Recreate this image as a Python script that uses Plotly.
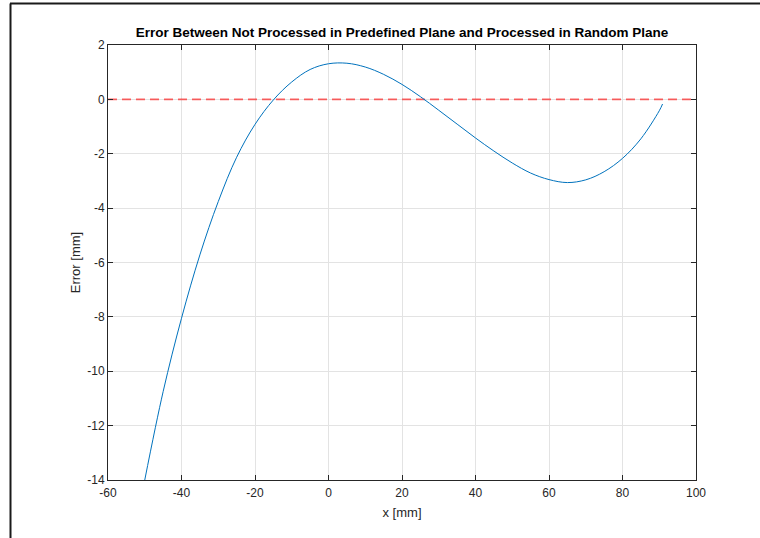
import plotly.graph_objects as go

# Measured error profile along x (sampled every 5 mm, plus the end point)
x_mm = [-50, -45, -40, -35, -30, -25, -20, -15, -10, -5,
        0, 5, 10, 15, 20, 25, 30, 35, 40, 45,
        50, 55, 60, 65, 70, 75, 80, 85, 90, 90.9]
error_mm = [-14.0, -10.75, -8.05, -5.72, -3.76, -2.13, -0.92, -0.02, 0.64, 1.1,
            1.31, 1.33, 1.19, 0.92, 0.55, 0.1, -0.4, -0.91, -1.42, -1.9,
            -2.34, -2.71, -2.95, -3.06, -2.96, -2.66, -2.17, -1.45, -0.42, -0.17]

# Zero reference line across the full x range
ref_x = [-60, 100]
ref_y = [0, 0]

x_ticks = [-60, -40, -20, 0, 20, 40, 60, 80, 100]
x_tick_text = ["-60", "-40", "-20", "0", "20", "40", "60", "80", "100"]
y_ticks = [2, 0, -2, -4, -6, -8, -10, -12, -14]
y_tick_text = ["2", "0", "-2", "-4", "-6", "-8", "-10", "-12", "-14"]

title_text = "Error Between Not Processed in Predefined Plane and Processed in Random Plane"
x_label = "x [mm]"
y_label = "Error [mm]"

font_family = "Liberation Sans, Arial, Helvetica, sans-serif"
axis_color = "#262626"

fig = go.Figure()
fig.add_trace(go.Scatter(
    x=ref_x, y=ref_y, mode="lines",
    line=dict(color="rgba(255,0,0,0.6)", width=1.6, dash="9px,5px"),
    hoverinfo="skip", showlegend=False,
))
fig.add_trace(go.Scatter(
    x=x_mm, y=error_mm, mode="lines",
    line=dict(color="#0072BD", width=1, shape="spline", smoothing=1.0),
    showlegend=False,
))

axis_common = dict(
    showline=True, linecolor=axis_color, linewidth=1, mirror="ticks",
    ticks="inside", ticklen=5, tickcolor=axis_color, tickwidth=1,
    showgrid=True, gridcolor="#e3e3e3", gridwidth=1,
    zeroline=False,
    tickfont=dict(family=font_family, size=12, color=axis_color),
)

fig.update_layout(
    width=760, height=538,
    margin=dict(l=108, r=64, t=45, b=58),
    paper_bgcolor="white", plot_bgcolor="white",
    title=dict(
        text="<b>" + title_text + "</b>",
        x=(108 + 696) / 2 / 760, xanchor="center",
        y=1 - 32 / 538, yanchor="middle",
        font=dict(family=font_family, size=13.5, color="black"),
    ),
    xaxis=dict(
        range=[-60, 100], tickvals=x_ticks, ticktext=x_tick_text,
        ticklabelstandoff=2,
        title=dict(text=x_label, standoff=8,
                   font=dict(family=font_family, size=13, color=axis_color)),
        **axis_common,
    ),
    yaxis=dict(
        range=[-14, 2], tickvals=y_ticks, ticktext=y_tick_text,
        title=dict(text=y_label, standoff=3,
                   font=dict(family=font_family, size=13, color=axis_color)),
        **axis_common,
    ),
    shapes=[
        # window frame edges
        dict(type="line", xref="paper", yref="paper",
             x0=(10 - 108) / 588, x1=(760 - 108) / 588,
             y0=(480 - 3.5) / 435, y1=(480 - 3.5) / 435,
             line=dict(color="#1a1a1a", width=2)),
        dict(type="line", xref="paper", yref="paper",
             x0=(10.5 - 108) / 588, x1=(10.5 - 108) / 588,
             y0=(480 - 538) / 435, y1=(480 - 3.5) / 435,
             line=dict(color="#1a1a1a", width=2)),
    ],
)

fig.write_html("out.html")
